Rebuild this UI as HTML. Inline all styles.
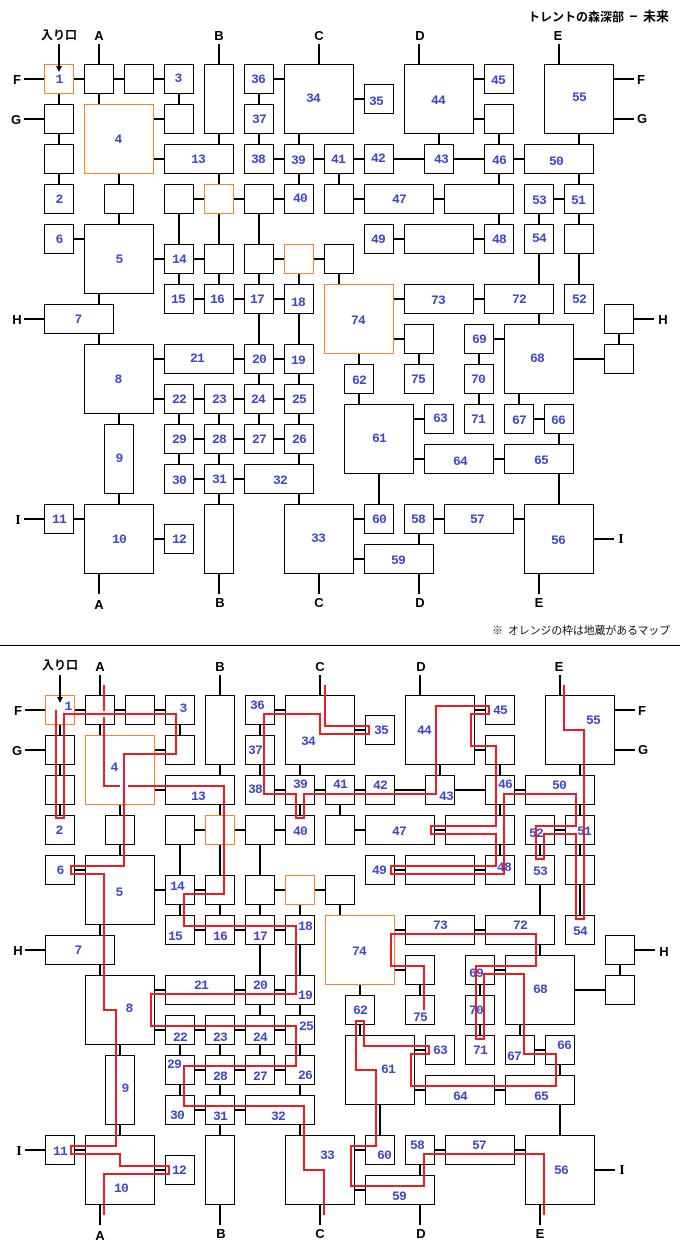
<!DOCTYPE html>
<html lang="ja"><head><meta charset="utf-8"><title>トレントの森深部 - 未来</title>
<style>
html,body{margin:0;padding:0;background:#fff}
svg{display:block}
.n{font:bold 13px "Liberation Mono",monospace;letter-spacing:-.8px;fill:#3f47cf;text-anchor:middle}
.l{font:bold 13px "Liberation Sans",sans-serif;fill:#000;text-anchor:middle}
.i{font:bold 14px "Liberation Serif",serif;fill:#000;text-anchor:middle}
.j{font:bold 12px "Liberation Sans","Noto Sans CJK JP",sans-serif;fill:#000}
.k{font:11px "Liberation Sans","Noto Sans CJK JP",sans-serif;fill:#111}
</style></head><body>
<svg xmlns="http://www.w3.org/2000/svg" width="680" height="1250" viewBox="0 0 680 1250">
<rect width="680" height="1250" fill="#fff"/>
<defs><g id="m">
<path fill="none" stroke="#000" stroke-width="2" d="M24 79H44M24 119H44M24 319H44M24 519H44M614 79H634M614 119H634M634 319H654M594 539H614
M74 79H84M114 79H124M154 79H164M274 79H284M354 99H364M474 79H484M474 119H484M154 119H164M154 159H164M274 159H284M314 159H324M354 159H364M394 159H424M454 159H484M514 159H524
M194 199H204M234 199H244M274 199H284M354 199H364M434 199H444M554 199H564M74 239H84M394 239H404M474 239H484
M154 259H164M194 259H204M274 259H284M314 259H324M194 299H204M234 299H244M274 299H284M394 299H404M474 299H484
M394 339H404M494 339H504M154 359H164M234 359H244M274 359H284M574 359H604M154 399H164M194 399H204M234 399H244M274 399H284
M414 419H424M534 419H544M194 439H204M234 439H244M274 439H284M414 459H424M494 459H504M194 479H204M234 479H244
M74 519H84M354 519H364M434 519H444M514 519H524M154 539H164M354 559H364
M59 94V104M59 134V144M59 174V184
M99 44V64M99 94V104M99 294V304M99 334V344M99 574V594
M119 174V184M119 214V224M119 414V424M119 494V504
M179 94V104M179 214V244M179 274V284M179 414V424M179 454V464
M219 44V64M219 134V144M219 174V184M219 214V244M219 274V284M219 414V424M219 454V464M219 494V504M219 574V594
M259 94V104M259 134V144M259 214V244M259 274V284M259 314V344M259 374V384M259 414V424
M299 134V144M299 174V184M299 274V284M299 314V344M299 374V384M299 414V424M299 454V464M299 494V504
M319 44V64M319 574V594M339 174V184M339 274V284M359 354V364M359 394V404M379 474V504
M419 44V64M419 354V364M419 534V544M419 574V594M439 134V144M479 354V364M479 394V404
M499 134V144M499 174V184M499 214V224M519 394V404M539 214V224M539 254V284M539 314V324M539 574V594
M559 44V64M559 434V444M559 474V504M579 134V144M579 174V184M579 214V224M579 254V284M619 334V344"/>
<path fill="#fff" stroke="#000" stroke-width="1" d="M84.5 64.5h29v29h-29zM124.5 64.5h29v29h-29zM164.5 64.5h29v29h-29zM244.5 64.5h29v29h-29zM364.5 84.5h29v29h-29zM484.5 64.5h29v29h-29zM44.5 104.5h29v29h-29zM164.5 104.5h29v29h-29zM244.5 104.5h29v29h-29zM484.5 104.5h29v29h-29zM44.5 144.5h29v29h-29zM244.5 144.5h29v29h-29zM284.5 144.5h29v29h-29zM324.5 144.5h29v29h-29zM364.5 144.5h29v29h-29zM424.5 144.5h29v29h-29zM484.5 144.5h29v29h-29zM44.5 184.5h29v29h-29zM104.5 184.5h29v29h-29zM164.5 184.5h29v29h-29zM244.5 184.5h29v29h-29zM284.5 184.5h29v29h-29zM324.5 184.5h29v29h-29zM524.5 184.5h29v29h-29zM564.5 184.5h29v29h-29zM44.5 224.5h29v29h-29zM364.5 224.5h29v29h-29zM484.5 224.5h29v29h-29zM524.5 224.5h29v29h-29zM564.5 224.5h29v29h-29zM164.5 244.5h29v29h-29zM204.5 244.5h29v29h-29zM244.5 244.5h29v29h-29zM324.5 244.5h29v29h-29zM164.5 284.5h29v29h-29zM204.5 284.5h29v29h-29zM244.5 284.5h29v29h-29zM284.5 284.5h29v29h-29zM564.5 284.5h29v29h-29zM604.5 304.5h29v29h-29zM404.5 324.5h29v29h-29zM464.5 324.5h29v29h-29zM604.5 344.5h29v29h-29zM244.5 344.5h29v29h-29zM284.5 344.5h29v29h-29zM344.5 364.5h29v29h-29zM404.5 364.5h29v29h-29zM464.5 364.5h29v29h-29zM164.5 384.5h29v29h-29zM204.5 384.5h29v29h-29zM244.5 384.5h29v29h-29zM284.5 384.5h29v29h-29zM424.5 404.5h29v29h-29zM464.5 404.5h29v29h-29zM504.5 404.5h29v29h-29zM544.5 404.5h29v29h-29zM164.5 424.5h29v29h-29zM204.5 424.5h29v29h-29zM244.5 424.5h29v29h-29zM284.5 424.5h29v29h-29zM164.5 464.5h29v29h-29zM204.5 464.5h29v29h-29zM44.5 504.5h29v29h-29zM364.5 504.5h29v29h-29zM404.5 504.5h29v29h-29zM164.5 524.5h29v29h-29z
M164.5 144.5h69v29h-69zM524.5 144.5h69v29h-69zM364.5 184.5h69v29h-69zM444.5 184.5h69v29h-69zM404.5 224.5h69v29h-69zM404.5 284.5h69v29h-69zM484.5 284.5h69v29h-69zM44.5 304.5h69v29h-69zM164.5 344.5h69v29h-69zM424.5 444.5h69v29h-69zM504.5 444.5h69v29h-69zM244.5 464.5h69v29h-69zM444.5 504.5h69v29h-69zM364.5 544.5h69v29h-69z
M204.5 64.5h29v69h-29zM104.5 424.5h29v69h-29zM204.5 504.5h29v69h-29z
M284.5 64.5h69v69h-69zM404.5 64.5h69v69h-69zM544.5 64.5h69v69h-69zM84.5 224.5h69v69h-69zM84.5 344.5h69v69h-69zM344.5 404.5h69v69h-69zM84.5 504.5h69v69h-69zM284.5 504.5h69v69h-69zM524.5 504.5h69v69h-69zM504.5 324.5h69v69h-69z"/>
<path fill="#fff" stroke="#ff7f27" stroke-width="1" d="M44.5 64.5h29v29h-29zM204.5 184.5h29v29h-29zM284.5 244.5h29v29h-29zM84.5 104.5h69v69h-69zM324.5 284.5h69v69h-69z"/>
<path fill="none" stroke="#000" stroke-width="2" d="M59 44V66"/>
<path d="M56 66H62L59 72Z" fill="#000"/>
</g></defs>

<use href="#m"/>
<use href="#m" transform="translate(1,631)"/>
<rect x="0" y="645" width="680" height="1" fill="#000"/>

<text class="j" x="528" y="21">トレントの森深部</text><rect x="630" y="15.500" width="7" height="1.500" fill="#000"/><text class="j" x="643" y="21" style="font-size:13px">未来</text>
<text class="k" x="492" y="634">※</text><text class="k" x="508" y="634" textLength="162" lengthAdjust="spacingAndGlyphs">オレンジの枠は地蔵があるマップ</text>
<text class="j" x="41" y="39">入り口</text>
<text class="j" x="42" y="669">入り口</text>

<!-- top letters -->
<text class="l" x="99" y="40">A</text><text class="l" x="219" y="40">B</text><text class="l" x="319" y="40">C</text><text class="l" x="420" y="40">D</text><text class="l" x="558" y="40">E</text>
<text class="l" x="17" y="84">F</text><text class="l" x="16" y="124">G</text><text class="l" x="17" y="324">H</text><text class="i" x="18" y="524">I</text>
<text class="l" x="641" y="84">F</text><text class="l" x="642" y="123">G</text><text class="l" x="663" y="324">H</text><text class="i" x="621" y="543">I</text>
<text class="l" x="99" y="609">A</text><text class="l" x="220" y="607">B</text><text class="l" x="319" y="607">C</text><text class="l" x="420" y="607">D</text><text class="l" x="539" y="607">E</text>

<!-- top numbers -->
<text class="n" x="59" y="83">1</text><text class="n" x="178" y="82">3</text><text class="n" x="258" y="83">36</text><text class="n" x="313" y="102">34</text><text class="n" x="376" y="105">35</text><text class="n" x="438" y="104">44</text><text class="n" x="498" y="84">45</text><text class="n" x="579" y="101">55</text>
<text class="n" x="259" y="123">37</text><text class="n" x="118" y="143">4</text><text class="n" x="198" y="163">13</text><text class="n" x="258" y="163">38</text><text class="n" x="298" y="164">39</text><text class="n" x="338" y="163">41</text><text class="n" x="378" y="162">42</text><text class="n" x="441" y="163">43</text><text class="n" x="499" y="164">46</text><text class="n" x="556" y="165">50</text>
<text class="n" x="59" y="203">2</text><text class="n" x="300" y="202">40</text><text class="n" x="399" y="203">47</text><text class="n" x="539" y="204">53</text><text class="n" x="578" y="204">51</text>
<text class="n" x="59" y="243">6</text><text class="n" x="119" y="263">5</text><text class="n" x="378" y="243">49</text><text class="n" x="499" y="243">48</text><text class="n" x="539" y="242">54</text><text class="n" x="179" y="263">14</text>
<text class="n" x="178" y="303">15</text><text class="n" x="217" y="303">16</text><text class="n" x="257" y="303">17</text><text class="n" x="298" y="306">18</text><text class="n" x="358" y="324">74</text><text class="n" x="438" y="304">73</text><text class="n" x="519" y="303">72</text><text class="n" x="579" y="303">52</text><text class="n" x="78" y="323">7</text>
<text class="n" x="197" y="362">21</text><text class="n" x="259" y="363">20</text><text class="n" x="298" y="364">19</text><text class="n" x="118" y="383">8</text><text class="n" x="179" y="403">22</text><text class="n" x="219" y="403">23</text><text class="n" x="258" y="403">24</text><text class="n" x="299" y="403">25</text>
<text class="n" x="179" y="443">29</text><text class="n" x="219" y="443">28</text><text class="n" x="259" y="443">27</text><text class="n" x="299" y="443">26</text><text class="n" x="179" y="484">30</text><text class="n" x="219" y="483">31</text><text class="n" x="280" y="484">32</text><text class="n" x="119" y="462">9</text>
<text class="n" x="59" y="523">11</text><text class="n" x="119" y="543">10</text><text class="n" x="179" y="543">12</text><text class="n" x="318" y="542">33</text>
<text class="n" x="479" y="343">69</text><text class="n" x="537" y="362">68</text><text class="n" x="359" y="384">62</text><text class="n" x="418" y="383">75</text><text class="n" x="478" y="383">70</text><text class="n" x="379" y="442">61</text><text class="n" x="440" y="422">63</text><text class="n" x="478" y="423">71</text><text class="n" x="519" y="424">67</text><text class="n" x="558" y="424">66</text>
<text class="n" x="460" y="465">64</text><text class="n" x="541" y="464">65</text><text class="n" x="379" y="523">60</text><text class="n" x="418" y="523">58</text><text class="n" x="477" y="523">57</text><text class="n" x="558" y="544">56</text><text class="n" x="398" y="564">59</text>

<!-- bottom letters -->
<text class="l" x="100" y="671">A</text><text class="l" x="220" y="671">B</text><text class="l" x="320" y="671">C</text><text class="l" x="421" y="671">D</text><text class="l" x="559" y="671">E</text>
<text class="l" x="18" y="715">F</text><text class="l" x="17" y="755">G</text><text class="l" x="18" y="955">H</text><text class="i" x="19" y="1155">I</text>
<text class="l" x="642" y="715">F</text><text class="l" x="643" y="754">G</text><text class="l" x="664" y="956">H</text><text class="i" x="622" y="1174">I</text>
<text class="l" x="100" y="1240">A</text><text class="l" x="221" y="1238">B</text><text class="l" x="320" y="1238">C</text><text class="l" x="421" y="1238">D</text><text class="l" x="540" y="1238">E</text>

<!-- bottom numbers -->
<text class="n" x="68" y="710">1</text><text class="n" x="183" y="712">3</text><text class="n" x="257" y="709">36</text><text class="n" x="308" y="745">34</text><text class="n" x="381" y="734">35</text><text class="n" x="424" y="734">44</text><text class="n" x="500" y="714">45</text><text class="n" x="593" y="724">55</text>
<text class="n" x="255" y="754">37</text><text class="n" x="114" y="771">4</text><text class="n" x="198" y="800">13</text><text class="n" x="255" y="793">38</text><text class="n" x="300" y="788">39</text><text class="n" x="340" y="788">41</text><text class="n" x="380" y="789">42</text><text class="n" x="446" y="800">43</text><text class="n" x="505" y="788">46</text><text class="n" x="559" y="789">50</text>
<text class="n" x="59" y="834">2</text><text class="n" x="300" y="835">40</text><text class="n" x="399" y="835">47</text><text class="n" x="536" y="837">52</text><text class="n" x="584" y="835">51</text>
<text class="n" x="60" y="874">6</text><text class="n" x="119" y="896">5</text><text class="n" x="177" y="890">14</text><text class="n" x="379" y="874">49</text><text class="n" x="504" y="871">48</text><text class="n" x="540" y="875">53</text>
<text class="n" x="175" y="940">15</text><text class="n" x="220" y="940">16</text><text class="n" x="260" y="940">17</text><text class="n" x="305" y="930">18</text><text class="n" x="440" y="929">73</text><text class="n" x="520" y="929">72</text><text class="n" x="580" y="935">54</text><text class="n" x="359" y="955">74</text><text class="n" x="78" y="954">7</text>
<text class="n" x="201" y="989">21</text><text class="n" x="260" y="989">20</text><text class="n" x="305" y="999">19</text><text class="n" x="129" y="1012">8</text><text class="n" x="180" y="1041">22</text><text class="n" x="220" y="1041">23</text><text class="n" x="260" y="1041">24</text><text class="n" x="306" y="1030">25</text>
<text class="n" x="174" y="1068">29</text><text class="n" x="220" y="1080">28</text><text class="n" x="260" y="1080">27</text><text class="n" x="305" y="1079">26</text><text class="n" x="177" y="1119">30</text><text class="n" x="220" y="1120">31</text><text class="n" x="278" y="1120">32</text><text class="n" x="125" y="1092">9</text>
<text class="n" x="60" y="1155">11</text><text class="n" x="121" y="1192">10</text><text class="n" x="179" y="1174">12</text><text class="n" x="327" y="1159">33</text>
<text class="n" x="540" y="993">68</text><text class="n" x="476" y="977">69</text><text class="n" x="360" y="1014">62</text><text class="n" x="420" y="1021">75</text><text class="n" x="476" y="1014">70</text><text class="n" x="388" y="1073">61</text><text class="n" x="440" y="1054">63</text><text class="n" x="480" y="1054">71</text><text class="n" x="514" y="1060">67</text><text class="n" x="564" y="1049">66</text>
<text class="n" x="460" y="1100">64</text><text class="n" x="541" y="1100">65</text><text class="n" x="384" y="1159">60</text><text class="n" x="417" y="1149">58</text><text class="n" x="479" y="1149">57</text><text class="n" x="561" y="1174">56</text><text class="n" x="399" y="1200">59</text>

<!-- red route -->
<g fill="none" stroke="#ed1c24" stroke-width="2" stroke-linejoin="miter">
<path d="M104 685V711M104 717V786H120M128 786H224V894H184V926H296V994H151V1026H296V1066H184V1106H304V1170H324V1215"/>
<path d="M56 710V818H64V714H176V754H124V866H71V874H104V1010H116V1146H71V1154H120V1166H169V1174H104V1215"/>
<path d="M325 685V726H369V734H320V714H264V794H296V818H304V794H436V706H489V714H471V746H496V826H431V834H496V866H391V874H504V794H576V826H536V859H544V834H576V919H584V730H564V685"/>
<path d="M424 1010V966H391V934H536V966H476V1039H484V974H524V1054H556V1086H411V1054H429V1046H364V1021H356V1070H376V1146H351V1186H424V1154H544V1215"/>
</g>
</svg>
</body></html>
